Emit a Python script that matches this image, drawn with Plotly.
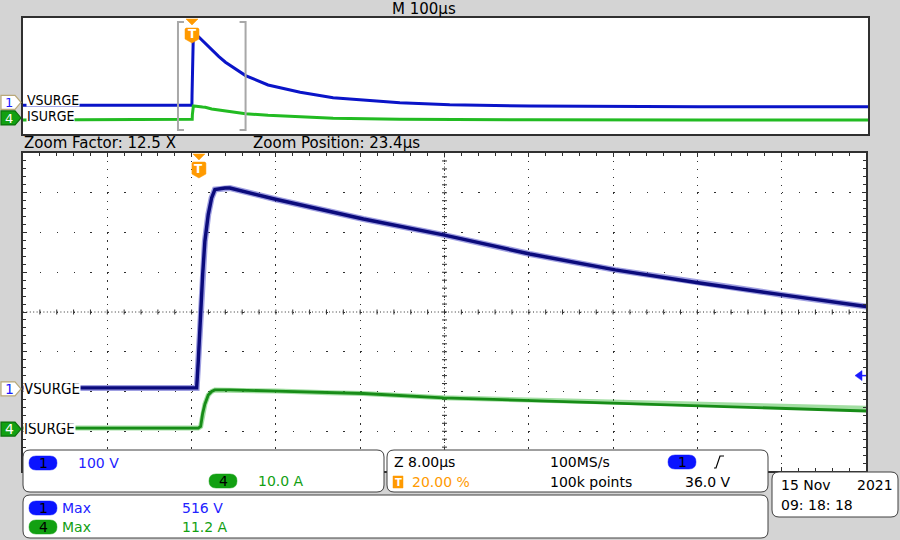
import plotly.graph_objects as go

# ---------------- data ----------------
time_us = [-200, -100, -16.6, -5, -0.12, 0.03, 0.26, 0.45, 0.66, 0.98, 1.30, 1.61, 2.56, 3.04,
           7.47, 12.5, 15.7, 23.3, 31.5, 39.6, 47.6, 55.5, 63.4, 90, 128, 167, 246, 305, 400, 600, 800]
vsurge_v = [0, 0, 0, 0, 0, 66, 202, 285, 369, 436, 478, 499, 503, 503,
            474, 444, 425, 385, 337, 297, 264, 234, 205, 140, 90, 52, 18, 3, -5, -10, -10]
isurge_a = [0, 0, 0, 0, 0, 0, 0.4, 3.7, 6.0, 8.3, 9.2, 9.6, 9.6, 9.6,
            9.3, 8.9, 8.7, 7.6, 6.9, 6.2, 5.6, 4.9, 4.3, 3.2, 2.0, 1.2, 0.5, 0.2, 0.1, 0, 0]

trigger_time_us = 0.0
trigger_level_v = 36.0
ch1_scale = "100 V"
ch4_scale = "10.0 A"
ch1_max = "516 V"
ch4_max = "11.2 A"

# ---------------- layout constants (pixels) ----------------
W, H = 900, 540
MX0, MX1, MY0, MY1 = 23, 866, 153, 471      # main graticule
OX0, OX1, OY0, OY1 = 23, 868, 18, 134       # overview panel
main_xrange = [-16.6, 63.4]     # 8 us/div
main_vrange = [-209, 591]       # 100 V/div
main_irange = [-10.8, 69.2]     # 10 A/div
over_xrange = [-200, 800]       # 100 us/div
over_vrange = [-198, 602]
over_irange = [-9.7, 70.3]

LFONT = "DejaVu Sans Condensed, DejaVu Sans, sans-serif"
FONT = "DejaVu Sans, sans-serif"
INK = "#303030"
BLUE_TXT = "#2222ff"
GREEN_TXT = "#12a012"
ORANGE = "#ff9a00"


def X(x):
    return x / W


def Y(y):
    return 1 - y / H


def rrect(x0, y0, x1, y1, r):
    p = (f"M {X(x0+r)},{Y(y0)} L {X(x1-r)},{Y(y0)} Q {X(x1)},{Y(y0)} {X(x1)},{Y(y0+r)} "
         f"L {X(x1)},{Y(y1-r)} Q {X(x1)},{Y(y1)} {X(x1-r)},{Y(y1)} "
         f"L {X(x0+r)},{Y(y1)} Q {X(x0)},{Y(y1)} {X(x0)},{Y(y1-r)} "
         f"L {X(x0)},{Y(y0+r)} Q {X(x0)},{Y(y0)} {X(x0+r)},{Y(y0)} Z")
    return p


def poly(pts):
    return "M " + " L ".join(f"{X(a)},{Y(b)}" for a, b in pts) + " Z"


fig = go.Figure()

# overview traces
fig.add_trace(go.Scatter(x=time_us, y=vsurge_v, xaxis="x2", yaxis="y3", mode="lines",
                         line=dict(color="#0a14c8", width=3), hoverinfo="skip"))
fig.add_trace(go.Scatter(x=time_us, y=isurge_a, xaxis="x2", yaxis="y4", mode="lines",
                         line=dict(color="#22bb22", width=3), hoverinfo="skip"))
# main traces (halo + core)
fig.add_trace(go.Scatter(x=time_us, y=isurge_a, xaxis="x", yaxis="y2", mode="lines",
                         line=dict(color="rgba(70,190,70,0.5)", width=5), hoverinfo="skip"))
fig.add_trace(go.Scatter(x=time_us, y=isurge_a, xaxis="x", yaxis="y2", mode="lines",
                         line=dict(color="#178c17", width=2.8), hoverinfo="skip"))
fig.add_trace(go.Scatter(x=time_us, y=vsurge_v, xaxis="x", yaxis="y", mode="lines",
                         line=dict(color="rgba(80,80,200,0.55)", width=6), hoverinfo="skip"))
fig.add_trace(go.Scatter(x=time_us, y=vsurge_v, xaxis="x", yaxis="y", mode="lines",
                         line=dict(color="#0b0b7c", width=3.4), hoverinfo="skip"))

shapes = []
ann = []


# ---- pixel helpers from axis scales ----
def main_px(t):
    return MX0 + (t - main_xrange[0]) / (main_xrange[1] - main_xrange[0]) * (MX1 - MX0)


def main_py_v(v):
    return MY1 - (v - main_vrange[0]) / (main_vrange[1] - main_vrange[0]) * (MY1 - MY0)


def main_py_i(a):
    return MY1 - (a - main_irange[0]) / (main_irange[1] - main_irange[0]) * (MY1 - MY0)


def over_px(t):
    return OX0 + (t - over_xrange[0]) / (over_xrange[1] - over_xrange[0]) * (OX1 - OX0)


def over_py_v(v):
    return OY1 - (v - over_vrange[0]) / (over_vrange[1] - over_vrange[0]) * (OY1 - OY0)


def over_py_i(a):
    return OY1 - (a - over_irange[0]) / (over_irange[1] - over_irange[0]) * (OY1 - OY0)


# ---- main graticule centre lines with ticks ----
cx = (MX0 + MX1) / 2
cy = (MY0 + MY1) / 2
shapes.append(dict(type="line", xref="paper", yref="paper", x0=X(MX0), x1=X(MX1), y0=Y(cy), y1=Y(cy),
                   line=dict(color=INK, width=1, dash="1px,2.4px"), layer="below"))
shapes.append(dict(type="line", xref="paper", yref="paper", x0=X(cx), x1=X(cx), y0=Y(MY0), y1=Y(MY1),
                   line=dict(color=INK, width=1, dash="1px,2.4px"), layer="below"))
hstep = (MX1 - MX0) / 50
for k in range(1, 50):
    xx = MX0 + k * hstep
    shapes.append(dict(type="line", xref="paper", yref="paper", x0=X(xx), x1=X(xx),
                       y0=Y(cy - 2.5), y1=Y(cy + 2.5), line=dict(color=INK, width=1), layer="below"))
vstep = (MY1 - MY0) / 40
for k in range(1, 40):
    yy = MY0 + k * vstep
    shapes.append(dict(type="line", xref="paper", yref="paper", x0=X(cx - 2.5), x1=X(cx + 2.5),
                       y0=Y(yy), y1=Y(yy), line=dict(color=INK, width=1), layer="below"))

# ---- zoom bracket in overview ----
bl = over_px(main_xrange[0])
br = over_px(main_xrange[1])
bt, bb = 22, 130
shapes.append(dict(type="path", xref="paper", yref="paper",
                   path=f"M {X(bl+6)},{Y(bt)} L {X(bl)},{Y(bt)} L {X(bl)},{Y(bb)} L {X(bl+6)},{Y(bb)}",
                   line=dict(color="#a8a8a8", width=2), layer="above"))
shapes.append(dict(type="path", xref="paper", yref="paper",
                   path=f"M {X(br-6)},{Y(bt)} L {X(br)},{Y(bt)} L {X(br)},{Y(bb)} L {X(br-6)},{Y(bb)}",
                   line=dict(color="#a8a8a8", width=2), layer="above"))


# ---- trigger T markers ----
def tmark(xc, top, shield_top, shield_h):
    shapes.append(dict(type="path", xref="paper", yref="paper",
                       path=poly([(xc - 6, top), (xc + 6, top), (xc, top + 6)]),
                       fillcolor=ORANGE, line=dict(color=ORANGE, width=0.5), layer="above"))
    st = shield_top
    sb = shield_top + shield_h
    shapes.append(dict(type="path", xref="paper", yref="paper",
                       path=poly([(xc - 7, st + 1), (xc - 6, st), (xc + 6, st), (xc + 7, st + 1),
                                  (xc + 7, sb - 4), (xc, sb), (xc - 7, sb - 4)]),
                       fillcolor=ORANGE, line=dict(color=ORANGE, width=0.5), layer="above"))
    ann.append(dict(x=X(xc), y=Y(st + (shield_h - 3) / 2), xref="paper", yref="paper", text="<b>T</b>",
                    showarrow=False, font=dict(family="DejaVu Sans, sans-serif", size=12, color="white"),
                    xanchor="center", yanchor="middle"))


tmark(main_px(trigger_time_us) + 1, MY0 + 1, 162, 16)
tmark(over_px(trigger_time_us), OY0 + 1, 28, 15)

# ---- trigger level arrow (right side of main) ----
ty = main_py_v(trigger_level_v) + 2
shapes.append(dict(type="path", xref="paper", yref="paper",
                   path=poly([(MX1 - 11, ty), (MX1 - 4, ty - 5), (MX1 - 4, ty + 5)]),
                   fillcolor="#1a1aff", line=dict(color="#1a1aff", width=0.5), layer="above"))
shapes.append(dict(type="line", xref="paper", yref="paper", x0=X(MX1 - 5), x1=X(MX1), y0=Y(ty), y1=Y(ty),
                   line=dict(color="#1a1aff", width=1.5), layer="above"))


# ---- channel ground markers & labels ----
def ch_marker(yc, num, fill, txtcol, line, size=14):
    shapes.append(dict(type="path", xref="paper", yref="paper",
                       path=poly([(1, yc - 7), (15, yc - 7), (21, yc), (15, yc + 7), (1, yc + 7)]),
                       fillcolor=fill, line=dict(color=line, width=1.2), layer="above"))
    ann.append(dict(x=X(9), y=Y(yc), xref="paper", yref="paper", text=num, showarrow=False,
                    font=dict(family="DejaVu Sans, sans-serif", size=size, color=txtcol),
                    xanchor="center", yanchor="middle", height=12, borderpad=0))


def label(x, yc, txt, size=15):
    ann.append(dict(x=X(x), y=Y(yc), xref="paper", yref="paper", text=txt, showarrow=False,
                    font=dict(family=LFONT, size=size, color="black"), xanchor="left", yanchor="middle",
                    bgcolor="white", borderpad=0, height=12))


ch_marker(main_py_v(0) + 1, "1", "white", "#1a1aff", "#b8a878")
ch_marker(main_py_i(0) + 1, "4", "#12a012", "white", "#0a700a")
label(23, main_py_v(0) + 1, "VSURGE")
label(23, main_py_i(0) + 1, "ISURGE")
ch_marker(over_py_v(0) - 3, "1", "white", "#1a1aff", "#b8a878", size=13)
ch_marker(over_py_i(0) - 2, "4", "#12a012", "white", "#0a700a", size=13)
label(26, over_py_v(0) - 5, "VSURGE", size=14)
label(26, over_py_i(0) - 4, "ISURGE", size=14)


# ---- info boxes ----
def box(x0, y0, x1, y1):
    shapes.append(dict(type="path", xref="paper", yref="paper", path=rrect(x0, y0, x1, y1, 7),
                       fillcolor="white", line=dict(color="#404040", width=1), layer="above"))


def pill(xc, yc, fill, num):
    shapes.append(dict(type="path", xref="paper", yref="paper", path=rrect(xc - 14, yc - 7, xc + 14, yc + 7, 7),
                       fillcolor=fill, line=dict(color=fill, width=0.5), layer="above"))
    ann.append(dict(x=X(xc), y=Y(yc), xref="paper", yref="paper", text=num, showarrow=False,
                    font=dict(family="DejaVu Sans, sans-serif", size=14, color="black"),
                    xanchor="center", yanchor="middle"))


def text(x, yc, s, col="black", anchor="left", size=14):
    ann.append(dict(x=X(x), y=Y(yc), xref="paper", yref="paper", text=s, showarrow=False,
                    font=dict(family=FONT, size=size, color=col), xanchor=anchor, yanchor="middle"))


box(23, 450, 384, 492)
box(387, 450, 768, 492)
box(23, 495, 768, 538)
box(772, 472, 898, 517)

pill(43, 463, "#0a14ff", "1")
text(76, 463, ch1_scale, BLUE_TXT)
pill(223, 481, "#12a012", "4")
text(256, 481, ch4_scale, GREEN_TXT)

text(392, 462, "Z 8.00µs")
shapes.append(dict(type="rect", xref="paper", yref="paper", x0=X(393), x1=X(403), y0=Y(488), y1=Y(476),
                   fillcolor=ORANGE, line=dict(color=ORANGE, width=0.5), layer="above"))
ann.append(dict(x=X(398), y=Y(482), xref="paper", yref="paper", text="<b>T</b>", showarrow=False,
                font=dict(family="DejaVu Sans, sans-serif", size=10, color="white"),
                xanchor="center", yanchor="middle"))
text(410, 482, "20.00 %", ORANGE)
text(548, 462, "100MS/s")
text(548, 482, "100k points")
pill(682, 462, "#0a14ff", "1")
shapes.append(dict(type="path", xref="paper", yref="paper",
                   path=f"M {X(714)},{Y(468)} L {X(716)},{Y(468)} L {X(720)},{Y(456)} L {X(724)},{Y(456)}",
                   line=dict(color="black", width=1.2), layer="above"))
text(733, 482, f"{trigger_level_v:.1f} V", anchor="right")

pill(43, 508, "#0a14ff", "1")
text(60, 508, "Max", BLUE_TXT)
text(180, 508, ch1_max, BLUE_TXT)
pill(43, 527, "#12a012", "4")
text(60, 527, "Max", GREEN_TXT)
text(180, 527, ch4_max, GREEN_TXT)

text(779, 485, "15 Nov")
text(895, 485, "2021", anchor="right")
text(779, 505, "09: 18: 18")

# header texts
text(424, 9, "M 100µs", anchor="center", size=15)
text(22, 143, "Zoom Factor: 12.5 X", size=15)
text(251, 143, "Zoom Position: 23.4µs", size=15)

fig.update_layout(
    width=W, height=H, autosize=False,
    margin=dict(l=0, r=0, t=0, b=0),
    paper_bgcolor="#d4d4d4", plot_bgcolor="white",
    showlegend=False,
    shapes=shapes, annotations=ann,
    xaxis=dict(domain=[X(MX0), X(MX1)], range=main_xrange, anchor="y",
               showline=True, linecolor=INK, linewidth=2, mirror="ticks",
               ticks="inside", ticklen=4, tickcolor=INK, tick0=main_xrange[0], dtick=8,
               showticklabels=False, showgrid=True, gridcolor=INK, gridwidth=1,
               griddash="1.4px,6.55px", zeroline=False,
               minor=dict(dtick=1.6, tick0=main_xrange[0], ticks="inside", ticklen=3,
                          tickcolor=INK, showgrid=False)),
    yaxis=dict(domain=[Y(MY1), Y(MY0)], range=main_vrange, anchor="x",
               showline=True, linecolor=INK, linewidth=2, mirror="ticks",
               ticks="inside", ticklen=4, tickcolor=INK, tick0=main_vrange[0], dtick=100,
               showticklabels=False, showgrid=True, gridcolor=INK, gridwidth=1,
               griddash="1.4px,15.46px", zeroline=False,
               minor=dict(dtick=20, tick0=main_vrange[0], ticks="inside", ticklen=3,
                          tickcolor=INK, showgrid=False)),
    yaxis2=dict(overlaying="y", range=main_irange, visible=False, anchor="x"),
    xaxis2=dict(domain=[X(OX0), X(OX1)], range=over_xrange, anchor="y3",
                showline=True, linecolor=INK, linewidth=2, mirror=True,
                showticklabels=False, showgrid=False, zeroline=False, ticks=""),
    yaxis3=dict(domain=[Y(OY1), Y(OY0)], range=over_vrange, anchor="x2",
                showline=True, linecolor=INK, linewidth=2, mirror=True,
                showticklabels=False, showgrid=False, zeroline=False, ticks=""),
    yaxis4=dict(overlaying="y3", range=over_irange, visible=False, anchor="x2"),
)

fig.write_html("out.html", config={"displayModeBar": False},
               post_script="document.body.style.margin='0';")
